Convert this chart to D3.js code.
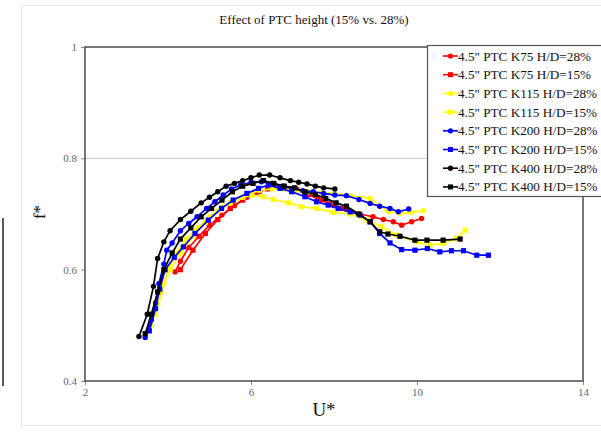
<!DOCTYPE html>
<html>
<head>
<meta charset="utf-8">
<script src="https://cdn.jsdelivr.net/npm/d3@7"></script>
<style>
  body { margin: 0; background: #fff; }
  svg { display: block; font-family: "Liberation Serif", "Times New Roman", serif; }
</style>
</head>
<body>
<div id="chart"></div>
<script>
// series names, colours and which marker each one uses
const seriesNames = [
  '4.5" PTC K75 H/D=28%', '4.5" PTC K75 H/D=15%',
  '4.5" PTC K115 H/D=28%', '4.5" PTC K115 H/D=15%',
  '4.5" PTC K200 H/D=28%', '4.5" PTC K200 H/D=15%',
  '4.5" PTC K400 H/D=28%', '4.5" PTC K400 H/D=15%'
];
const seriesColors = ["#ff0000", "#ff0000", "#ffff00", "#ffff00", "#0000ff", "#0000ff", "#000000", "#000000"];
const seriesMarkers = ["circle", "square", "circle", "square", "circle", "square", "circle", "square"];

// values: [U*, f*]
const k75_28 = [[4.17,0.596],[4.3,0.615],[4.5,0.64],[4.75,0.66],[5.0,0.68],[5.3,0.698],[5.6,0.715],[5.9,0.73],[6.2,0.74],[6.5,0.748],[6.8,0.75],[7.1,0.745],[7.4,0.735],[7.7,0.725],[8.0,0.715],[8.3,0.708],[8.6,0.7],[8.94,0.695],[9.19,0.69],[9.43,0.686],[9.63,0.68],[9.87,0.686],[10.11,0.692]];
const k75_15 = [[4.3,0.6],[4.6,0.635],[4.9,0.665],[5.2,0.69],[5.5,0.71],[5.8,0.725],[6.1,0.738],[6.4,0.745],[6.7,0.748],[7.0,0.745],[7.3,0.738],[7.6,0.728],[7.9,0.718],[8.2,0.71]];
const k115_28 = [[3.7,0.52],[3.85,0.56],[4.0,0.6],[4.2,0.63],[4.45,0.655],[4.7,0.675],[5.0,0.695],[5.3,0.712],[5.6,0.725],[5.9,0.735],[6.2,0.742],[6.5,0.745],[6.8,0.745],[7.1,0.742],[7.4,0.74],[7.7,0.738],[8.02,0.737],[8.4,0.733],[8.87,0.728],[9.1,0.715],[9.31,0.704],[9.59,0.701],[9.85,0.703],[10.15,0.706]];
const k115_15 = [[3.6,0.5],[3.75,0.54],[3.9,0.575],[4.05,0.6],[4.3,0.63],[4.6,0.66],[4.9,0.685],[5.2,0.705],[5.5,0.72],[5.8,0.73],[6.02,0.734],[6.3,0.731],[6.54,0.726],[6.9,0.72],[7.22,0.713],[7.58,0.71],[7.98,0.703],[8.39,0.7],[8.79,0.689],[9.15,0.677],[9.51,0.662],[9.99,0.65],[10.31,0.644],[10.63,0.647],[10.95,0.656],[11.16,0.671]];
const k200_28 = [[3.45,0.478],[3.6,0.51],[3.7,0.54],[3.78,0.575],[3.9,0.61],[3.97,0.635],[4.1,0.648],[4.3,0.67],[4.5,0.683],[4.7,0.695],[4.93,0.71],[5.13,0.722],[5.33,0.734],[5.53,0.745],[5.75,0.752],[6.0,0.757],[6.25,0.758],[6.5,0.755],[6.75,0.75],[7.0,0.746],[7.25,0.742],[7.5,0.74],[7.75,0.737],[8.02,0.734],[8.3,0.733],[8.6,0.726],[8.87,0.719],[9.1,0.714],[9.35,0.71],[9.55,0.704],[9.8,0.709]];
const k200_15 = [[3.55,0.49],[3.7,0.53],[3.8,0.565],[3.93,0.6],[4.15,0.622],[4.37,0.641],[4.65,0.665],[4.97,0.689],[5.29,0.71],[5.57,0.725],[5.9,0.737],[6.18,0.746],[6.42,0.752],[6.7,0.746],[6.98,0.74],[7.3,0.731],[7.58,0.722],[7.86,0.716],[8.1,0.71],[8.39,0.704],[8.63,0.698],[8.87,0.686],[9.1,0.665],[9.35,0.648],[9.63,0.636],[9.95,0.635],[10.25,0.638],[10.55,0.632],[10.83,0.634],[11.12,0.634],[11.44,0.626],[11.72,0.626]];
const k400_28 = [[3.3,0.48],[3.5,0.52],[3.65,0.57],[3.75,0.62],[3.9,0.65],[4.05,0.67],[4.3,0.69],[4.55,0.705],[4.8,0.72],[5.0,0.73],[5.2,0.74],[5.4,0.75],[5.6,0.755],[5.8,0.76],[6.0,0.765],[6.2,0.77],[6.45,0.77],[6.7,0.765],[6.95,0.76],[7.15,0.757],[7.35,0.754],[7.55,0.75],[7.75,0.747],[8.02,0.745]];
const k400_15 = [[3.45,0.485],[3.6,0.52],[3.75,0.56],[3.9,0.6],[4.1,0.63],[4.3,0.655],[4.55,0.675],[4.8,0.695],[5.05,0.71],[5.3,0.725],[5.55,0.74],[5.8,0.75],[6.05,0.755],[6.3,0.76],[6.55,0.755],[6.8,0.75],[7.05,0.747],[7.3,0.74],[7.55,0.735],[7.8,0.728],[8.05,0.72],[8.3,0.714],[8.6,0.7],[8.87,0.686],[9.1,0.668],[9.3,0.664],[9.59,0.66],[9.95,0.653],[10.24,0.653],[10.63,0.653],[11.04,0.655]];
const seriesData = [k75_28, k75_15, k115_28, k115_15, k200_28, k200_15, k400_28, k400_15];

const xTicks = [2, 6, 10, 14];
const yTicks = [0.4, 0.6, 0.8, 1];
const yGrid = [0.8];

const width = 601, height = 433;
const margin = { top: 47, right: 18, bottom: 52, left: 85 };
const plotW = width - margin.left - margin.right;
const plotH = height - margin.top - margin.bottom;

const svg = d3.select("#chart").append("svg").attr("width", width).attr("height", height);

// outer chart frame and the stray line from the page on the left
svg.append("rect").attr("x", 21.5).attr("y", 5.5).attr("width", 620).attr("height", 420)
  .attr("fill", "#fff").attr("stroke", "#e2e2e2");
svg.append("line").attr("x1", 3).attr("x2", 3).attr("y1", 218).attr("y2", 386)
  .attr("stroke", "#222").attr("stroke-width", 1.5);

const g = svg.append("g").attr("transform", `translate(${margin.left},${margin.top})`);

const x = d3.scaleLinear().domain([2, 14]).range([0, plotW]);
const y = d3.scaleLinear().domain([0.4, 1]).range([plotH, 0]);

// grid
g.selectAll(".grid").data(yGrid).join("line").attr("class", "grid")
  .attr("x1", 0).attr("x2", plotW).attr("y1", d => y(d)).attr("y2", d => y(d))
  .attr("stroke", "#c8c8c8").attr("stroke-width", 1);

// axes
const xAxis = g.append("g").attr("transform", `translate(0,${plotH})`)
  .call(d3.axisBottom(x).tickValues(xTicks).tickSize(4).tickPadding(3).tickFormat(d3.format("d")));
const yAxis = g.append("g")
  .call(d3.axisLeft(y).tickValues(yTicks).tickSize(4).tickPadding(4).tickFormat(d => d === 1 ? "1" : d3.format(".1f")(d)));
[xAxis, yAxis].forEach(a => {
  a.select(".domain").remove();
  a.selectAll("line").attr("stroke", "#888");
  a.selectAll("text").attr("fill", "#666").style("font-size", "11px").style("font-family", "Liberation Serif, serif");
});

// plot border
g.append("rect").attr("width", plotW).attr("height", plotH)
  .attr("fill", "none").attr("stroke", "#555").attr("stroke-width", 1.6);

// series
const line = d3.line().x(d => x(d[0])).y(d => y(d[1]));
seriesData.forEach((data, i) => {
  const s = g.append("g");
  s.append("path").datum(data).attr("d", line)
    .attr("fill", "none").attr("stroke", seriesColors[i]).attr("stroke-width", 1.7);
  if (seriesMarkers[i] === "circle") {
    s.selectAll("circle").data(data).join("circle")
      .attr("cx", d => x(d[0])).attr("cy", d => y(d[1])).attr("r", 2.7)
      .attr("fill", seriesColors[i]);
  } else {
    s.selectAll("rect").data(data).join("rect")
      .attr("x", d => x(d[0]) - 2.6).attr("y", d => y(d[1]) - 2.6)
      .attr("width", 5.2).attr("height", 5.2).attr("fill", seriesColors[i]);
  }
});

// titles
svg.append("text").attr("x", 314).attr("y", 24).attr("text-anchor", "middle")
  .style("font-size", "13px").attr("fill", "#111").text("Effect of PTC height (15% vs. 28%)");
svg.append("text").attr("x", margin.left + plotW / 2 - 10).attr("y", 416).attr("text-anchor", "middle")
  .style("font-size", "19px").attr("fill", "#111").text("U*");
svg.append("text").attr("transform", "translate(45,212) rotate(-90)").attr("text-anchor", "middle")
  .style("font-size", "17px").attr("fill", "#111").text("f*");

// legend
const legend = svg.append("g").attr("transform", "translate(427,45)");
legend.append("rect").attr("x", 0.5).attr("y", 0.5).attr("width", 200).attr("height", 151)
  .attr("fill", "#fff").attr("stroke", "#555").attr("stroke-width", 1.2);
seriesNames.forEach((name, i) => {
  const row = legend.append("g").attr("transform", `translate(0,${11 + i * 18.7})`);
  row.append("line").attr("x1", 16).attr("x2", 31).attr("y1", 0).attr("y2", 0)
    .attr("stroke", seriesColors[i]).attr("stroke-width", 1.6);
  if (seriesMarkers[i] === "circle") {
    row.append("circle").attr("cx", 23.5).attr("cy", 0).attr("r", 2.6).attr("fill", seriesColors[i]);
  } else {
    row.append("rect").attr("x", 21).attr("y", -2.5).attr("width", 5).attr("height", 5).attr("fill", seriesColors[i]);
  }
  row.append("text").attr("x", 31).attr("y", 4.5).style("font-size", "13.2px").attr("fill", "#111").text(name);
});
</script>
</body>
</html>
